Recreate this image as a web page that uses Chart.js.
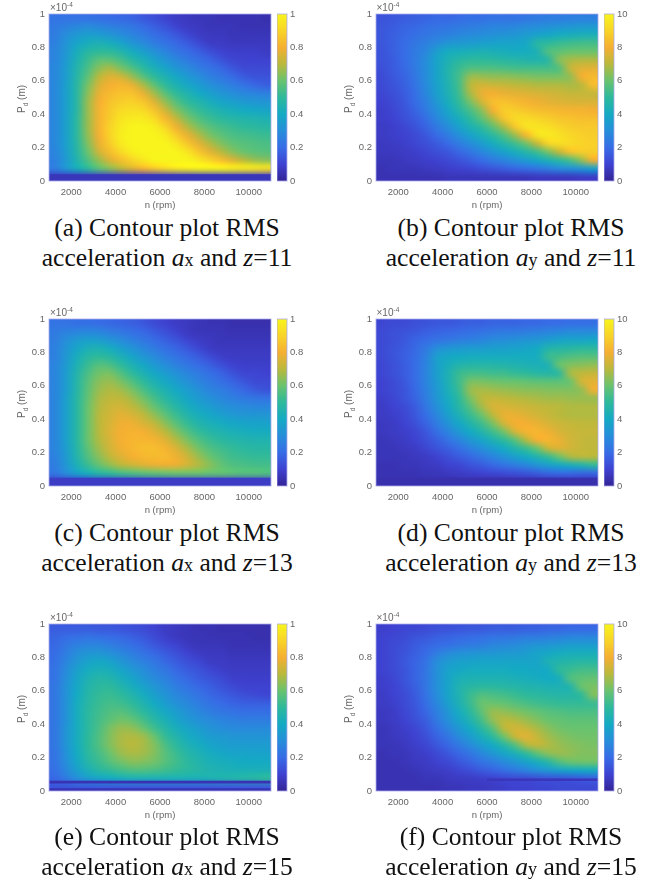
<!DOCTYPE html>
<html>
<head>
<meta charset="utf-8">
<script src="https://cdn.jsdelivr.net/npm/chart.js@4"></script>
<style>
  html, body { margin: 0; padding: 0; background: #fff; }
  #page { position: relative; width: 668px; height: 887px; overflow: hidden; }
  canvas { position: absolute; filter: blur(0.45px); }
  .cap { position: absolute; width: 334px; text-align: center; font: 25.6px/30px "Liberation Serif", serif; color: #111; white-space: nowrap; }
  .cap span { font-size: 18px; }
  .lab { position: absolute; font: 10px/12px "Liberation Sans", sans-serif; color: #666; white-space: nowrap; filter: blur(0.3px); }
  .lab sub, .lab sup { font-size: 6.5px; line-height: 0; }
  .rot { transform: rotate(-90deg); transform-origin: left top; }
</style>
</head>
<body>
<div id="page"></div>
<script>
// cell centres of the surface grid
const rpmCenters = [1250,1750,2250,2750,3250,3750,4250,4750,5250,5750,6250,6750,7250,7750,8250,8750,9250,9750,10250,10750];
const pdCenters = [0.975,0.925,0.875,0.825,0.775,0.725,0.675,0.625,0.575,0.525,0.475,0.425,0.375,0.325,0.275,0.225,0.175,0.125,0.075,0.025];

const xTicks = [2000,4000,6000,8000,10000];
const yTicks = [0,0.2,0.4,0.6,0.8,1];
const axTicks = [0,0.2,0.4,0.6,0.8,1];
const ayTicks = [0,2,4,6,8,10];

// parula colours as they look in the figure, level in percent of the colorbar
const parulaLevels = [0,10,20,30,40,50,60,70,80,90,100];
const parulaColors = [[52,36,150],[62,66,208],[55,108,230],[38,142,218],[20,170,195],[45,185,155],[105,195,110],[185,185,60],[245,175,50],[248,212,40],[248,244,28]];

// surface values, percent of the colorbar, rows go top to bottom
const levelsA = [
[22,22,22,22,21,20,19,18,15,13,10,8,7,6,6,5,5,5,5,4],
[24,26,28,29,28,26,25,23,20,17,14,10,8,7,6,6,6,5,5,5],
[25,30,34,36,35,33,30,27,24,21,18,15,11,8,7,7,6,6,6,6],
[26,32,38,42,44,42,38,33,29,25,22,19,16,12,8,8,7,7,7,7],
[27,33,42,48,50,50,46,41,36,31,27,23,20,17,13,10,9,9,9,8],
[27,34,44,52,58,58,54,48,43,37,32,28,24,21,18,14,11,10,10,10],
[28,35,46,55,64,68,62,56,49,43,38,33,29,25,22,19,15,12,12,12],
[28,35,47,58,70,76,74,66,57,50,44,39,34,30,26,23,20,16,14,14],
[28,36,48,62,75,80,82,78,68,58,50,44,39,35,31,28,25,22,19,17],
[28,36,48,64,78,83,85,85,78,67,57,50,45,40,36,33,30,28,27,26],
[28,36,48,66,80,85,88,89,86,76,65,56,50,46,42,38,36,34,33,32],
[28,36,48,66,81,87,92,93,92,85,73,63,56,51,47,44,42,40,39,38],
[28,36,49,66,81,88,95,97,97,92,82,71,62,56,52,49,47,46,45,44],
[28,36,49,66,81,90,97,100,100,98,90,79,69,62,57,54,52,50,49,48],
[28,36,49,65,80,90,98,100,100,100,97,87,78,69,62,58,55,54,53,52],
[28,36,48,63,78,88,97,100,100,100,100,95,86,77,69,63,59,57,56,55],
[27,35,47,60,74,84,92,98,100,100,100,100,95,86,77,70,64,60,58,57],
[26,34,45,56,66,76,84,90,96,100,100,100,100,96,90,84,76,70,66,64],
[25,33,42,50,58,64,70,76,82,87,92,96,98,100,100,100,98,97,96,94],
[8,8,8,8,8,8,8,8,8,8,8,8,8,8,8,8,8,8,8,8]];
const levelsB = [
[14,15,16,17,18,19,19,20,21,21,22,22,22,23,24,25,25,26,26,26],
[15,16,18,19,21,22,23,24,25,26,27,27,28,29,30,31,32,33,34,34],
[15,17,19,21,23,25,26,28,29,30,31,32,33,35,37,39,41,42,43,43],
[15,17,20,23,26,29,33,34,35,36,37,38,38,39,48,50,52,53,54,54],
[14,17,20,24,28,36,41,42,43,44,43,42,41,41,44,56,58,60,60,60],
[14,16,20,24,30,38,44,48,50,50,49,48,47,46,45,48,64,68,69,69],
[13,16,19,24,30,38,46,52,56,56,56,55,54,54,54,54,56,72,76,77],
[12,15,18,23,30,38,46,54,66,66,65,65,64,63,62,62,62,65,80,83],
[12,14,17,22,29,37,45,54,70,74,73,72,71,70,69,69,69,68,70,84],
[11,13,16,21,28,36,44,53,68,78,80,78,77,76,75,74,73,72,72,72],
[10,12,15,20,26,34,42,51,62,74,84,85,83,81,79,77,76,75,75,75],
[9,11,14,18,24,31,39,47,55,64,80,88,88,86,84,83,82,81,81,80],
[9,10,13,16,21,28,35,42,50,58,68,85,92,92,90,88,86,85,84,84],
[8,9,11,14,18,24,30,37,44,50,58,68,86,95,95,93,90,88,87,87],
[8,9,10,12,15,20,25,31,37,43,49,56,66,82,95,97,94,91,89,88],
[7,8,9,11,13,16,20,25,30,35,41,47,53,61,72,90,93,92,90,89],
[7,7,8,9,11,13,15,19,23,28,32,37,42,47,53,62,72,85,88,88],
[6,6,7,8,9,10,12,14,17,20,24,27,31,35,39,44,49,55,65,80],
[5,6,6,6,7,8,9,10,11,13,15,17,19,21,23,26,29,31,33,37],
[5,5,5,5,5,5,6,6,6,6,6,6,6,6,7,7,7,7,8,8]];
const levelsC = [
[22,22,21,21,20,19,18,17,15,12,10,8,7,6,5,5,4,4,4,4],
[24,26,27,28,27,25,23,21,19,16,13,10,7,6,6,6,5,5,5,5],
[25,30,34,36,35,32,29,26,23,20,17,14,10,8,7,6,6,6,6,6],
[26,32,38,43,44,41,36,32,28,24,21,18,15,11,8,7,7,7,7,7],
[26,33,42,48,50,48,43,38,33,29,25,22,19,16,12,9,8,8,8,8],
[27,34,44,52,57,55,50,44,39,34,30,26,23,20,17,13,10,9,9,9],
[27,35,46,55,61,62,56,50,44,39,35,31,27,24,21,18,14,11,11,10],
[27,35,47,57,64,66,62,56,50,44,39,35,31,27,24,21,18,15,12,12],
[27,35,47,58,66,69,67,62,55,49,44,39,35,31,27,25,22,19,16,14],
[27,36,48,59,68,71,71,67,61,54,48,43,38,34,31,28,26,24,23,22],
[27,36,48,60,69,73,74,71,66,59,53,47,42,38,35,32,30,29,28,28],
[27,36,48,60,70,74,77,75,71,65,58,52,46,42,39,36,34,33,33,33],
[27,36,48,60,70,75,79,79,75,71,64,57,51,46,43,41,39,38,37,37],
[27,36,48,60,70,76,80,81,80,76,70,63,56,51,47,45,43,42,41,41],
[27,36,48,60,69,75,80,82,82,81,76,69,62,56,52,49,47,46,45,45],
[27,35,47,58,67,74,79,82,84,84,81,75,68,61,56,53,51,49,48,48],
[26,34,46,56,64,71,76,80,82,83,83,79,73,66,60,56,53,52,51,51],
[25,33,43,52,59,65,70,73,76,78,79,78,74,69,64,59,56,55,54,54],
[23,29,36,42,47,50,53,55,57,58,59,60,60,60,59,59,58,57,57,56],
[9,9,9,9,9,9,9,9,9,9,9,9,9,9,9,9,9,9,9,9]];
const levelsD = [
[11,12,12,13,14,15,15,16,17,17,18,18,18,19,19,20,20,21,21,21],
[12,13,14,15,17,18,19,20,21,22,23,24,24,25,26,27,28,29,29,29],
[12,13,15,18,20,22,23,25,26,27,29,30,31,32,33,35,37,38,38,39],
[12,14,16,19,24,30,33,34,35,35,36,36,37,38,40,46,47,48,49,49],
[12,14,17,20,26,36,39,40,41,41,41,41,41,41,41,52,54,56,57,57],
[11,13,16,20,27,36,42,46,47,47,47,46,45,44,43,44,60,63,64,65],
[11,13,16,20,27,36,44,52,54,54,53,53,51,50,48,47,49,68,71,72],
[10,12,15,20,27,35,44,53,62,62,61,60,60,59,58,58,58,60,74,77],
[10,12,14,19,26,34,43,52,66,68,67,66,65,64,64,63,63,63,65,79],
[9,11,14,18,25,33,41,50,62,70,72,71,70,69,68,67,67,66,66,66],
[8,10,12,16,23,31,39,48,57,67,75,75,74,73,72,71,70,69,69,69],
[8,9,11,15,21,28,36,44,52,60,70,78,78,76,74,72,70,69,69,69],
[7,8,10,13,18,25,32,39,46,53,62,74,80,80,78,75,73,72,71,71],
[7,8,9,11,15,21,27,34,40,46,53,61,74,81,82,79,75,73,72,72],
[6,7,8,10,13,17,22,27,33,38,44,50,57,69,80,82,78,74,72,71],
[6,6,7,8,11,14,17,21,26,30,35,40,46,52,60,72,76,74,72,71],
[6,6,6,7,8,10,13,16,19,23,27,31,36,40,45,51,60,68,70,70],
[5,5,6,6,7,8,10,11,14,16,19,22,25,28,32,36,39,42,45,50],
[5,5,5,5,6,6,7,8,9,10,11,12,13,14,16,18,19,19,18,18],
[5,5,5,5,5,5,5,5,5,4,4,4,4,4,4,4,4,4,4,4]];
const levelsE = [
[16,16,16,16,15,15,14,13,12,10,8,7,6,5,5,4,4,4,4,4],
[18,20,21,22,21,20,19,17,15,12,9,7,6,6,5,5,5,5,4,4],
[19,23,26,27,27,25,23,21,18,15,12,10,7,6,6,6,5,5,5,5],
[20,25,30,33,33,31,28,25,22,19,16,13,10,8,7,7,6,6,6,6],
[21,27,33,37,39,37,33,29,26,23,19,16,13,11,8,8,7,7,7,7],
[22,29,36,41,43,42,38,34,30,26,23,19,16,14,11,9,8,8,8,8],
[22,30,38,44,47,46,42,38,33,29,26,22,19,16,14,12,9,9,9,9],
[23,31,39,46,49,50,46,42,37,33,29,25,22,19,17,14,12,10,10,10],
[23,31,40,47,51,52,50,46,41,36,32,28,25,22,19,17,15,13,12,11],
[23,31,41,48,52,54,53,50,45,40,35,31,28,25,22,20,18,17,17,17],
[23,31,41,49,53,56,57,54,49,44,39,35,31,28,25,23,22,21,21,21],
[23,31,41,49,54,58,61,59,54,48,43,38,34,31,29,27,26,25,25,25],
[23,32,41,49,55,62,66,65,60,53,47,42,38,35,32,30,29,29,29,29],
[23,32,41,50,56,63,68,69,67,60,51,46,41,38,35,34,33,32,32,32],
[23,32,41,50,56,63,68,70,68,63,55,49,44,41,38,36,35,35,35,35],
[22,31,40,49,54,60,66,68,67,63,57,52,47,44,41,39,38,38,37,37],
[22,30,39,47,52,57,61,64,63,61,57,53,49,46,43,42,41,40,40,40],
[21,28,36,43,48,51,54,56,56,55,53,51,49,47,45,44,43,43,43,43],
[19,24,30,35,38,40,42,43,43,43,43,43,43,43,44,45,46,47,48,50],
[14,14,15,15,15,15,15,15,15,15,15,15,15,15,15,15,15,15,15,15]];
const levelsF = [
[9,10,11,11,12,13,13,14,15,15,16,16,16,17,17,18,18,19,19,19],
[10,11,12,14,15,17,18,19,20,21,22,22,23,24,24,25,26,27,27,27],
[10,12,13,16,18,20,21,23,24,25,27,28,29,31,32,33,34,35,35,35],
[10,12,14,17,20,25,29,31,32,33,33,34,34,35,38,39,41,42,42,42],
[10,12,15,18,22,30,34,36,37,38,38,38,38,38,38,44,46,47,48,48],
[10,12,14,18,23,31,37,39,41,41,41,41,40,40,39,40,50,52,54,54],
[9,11,14,18,23,31,38,43,44,44,44,44,43,42,41,40,42,56,58,59],
[9,10,13,17,23,31,38,45,48,49,49,48,47,46,45,44,44,46,60,62],
[8,10,12,16,22,30,38,45,52,56,55,54,52,50,49,48,47,47,50,63],
[8,9,12,15,21,28,36,44,52,60,60,59,57,55,53,52,51,51,51,52],
[7,8,11,14,19,26,33,41,49,58,66,65,63,61,59,57,56,55,55,55],
[7,8,10,13,17,24,31,38,45,54,65,70,69,66,63,60,59,58,58,58],
[6,7,9,11,15,21,27,34,40,48,57,70,74,72,68,64,61,60,60,60],
[6,7,8,10,13,18,23,29,35,42,49,60,72,77,72,67,64,62,61,61],
[6,6,7,9,11,15,19,24,29,35,40,47,56,68,72,69,66,64,63,62],
[5,6,6,8,9,12,15,19,23,28,33,38,43,50,58,64,66,65,63,63],
[5,5,6,7,8,10,12,15,18,22,25,29,33,37,42,48,56,60,61,61],
[5,5,5,6,7,8,9,11,13,16,18,21,24,27,31,34,37,39,40,41],
[5,5,5,5,6,6,7,8,8,9,10,11,12,12,13,14,14,15,16,17],
[5,5,5,5,5,5,6,6,7,7,8,9,10,10,11,11,12,12,12,12]];

// thin sharp bands near Pd = 0: [rpm from, rpm to, pd low, pd high, level]
const bandsA = [[1000,11000,0,0.04,6]];
const bandsB = [];
const bandsC = [[1000,11000,0,0.05,8]];
const bandsD = [[1000,11000,0,0.05,4]];
const bandsE = [[1000,11000,0.045,0.062,5],[1000,11000,0,0.017,5]];
const bandsF = [[6000,11000,0.06,0.075,6]];

const panels = [
  { levels: levelsA, bands: bandsA, cb: axTicks, left: 49, top: 14, tag: "(a)", acc: "x", z: 11, capTop: 213, cap: 167 },
  { levels: levelsB, bands: bandsB, cb: ayTicks, left: 375.5, top: 14, tag: "(b)", acc: "y", z: 11, capTop: 213, cap: 511 },
  { levels: levelsC, bands: bandsC, cb: axTicks, left: 49, top: 319, tag: "(c)", acc: "x", z: 13, capTop: 518, cap: 167 },
  { levels: levelsD, bands: bandsD, cb: ayTicks, left: 375.5, top: 319, tag: "(d)", acc: "y", z: 13, capTop: 518, cap: 511 },
  { levels: levelsE, bands: bandsE, cb: axTicks, left: 49, top: 624, tag: "(e)", acc: "x", z: 15, capTop: 822, cap: 167 },
  { levels: levelsF, bands: bandsF, cb: ayTicks, left: 375.5, top: 624, tag: "(f)", acc: "y", z: 15, capTop: 822, cap: 511 },
];

const plotW = 222, plotH = 167, padL = 40, padT = 8, padB = 30;
const tickFont = { family: "Liberation Sans", size: 9.5 };
const tickColor = "#666";

function parula(level) {
  let i = 0;
  while (i < parulaLevels.length - 2 && level > parulaLevels[i + 1]) i++;
  const t = (level - parulaLevels[i]) / (parulaLevels[i + 1] - parulaLevels[i]);
  const a = parulaColors[i], b = parulaColors[i + 1];
  return `rgb(${a.map((c, k) => Math.round(c + (b[k] - c) * t)).join(",")})`;
}

// smooths the cells like MATLAB's interpolated shading, then outlines the axes
const smoothCells = {
  id: "smoothCells",
  afterDatasetDraw(chart, args) {
    if (args.index !== 0) return;
    const a = chart.chartArea;
    const small = document.createElement("canvas");
    small.width = rpmCenters.length;
    small.height = pdCenters.length;
    const s = small.getContext("2d");
    s.imageSmoothingEnabled = false;
    s.drawImage(chart.canvas, a.left, a.top, a.width, a.height, 0, 0, small.width, small.height);
    const c = chart.ctx;
    c.save();
    c.beginPath();
    c.rect(a.left, a.top, a.width, a.height);
    c.clip();
    c.imageSmoothingEnabled = true;
    c.imageSmoothingQuality = "high";
    c.drawImage(small, a.left, a.top, a.width, a.height);
    c.restore();
  },
  afterDraw(chart) {
    const a = chart.chartArea, c = chart.ctx;
    c.save();
    c.strokeStyle = "rgba(170,170,235,0.8)";
    c.strokeRect(a.left, a.top, a.width, a.height);
    c.restore();
  },
};

const page = document.getElementById("page");

function addCanvas(left, top, w, h) {
  const cv = document.createElement("canvas");
  cv.style.left = left + "px";
  cv.style.top = top + "px";
  cv.style.width = w + "px";
  cv.style.height = h + "px";
  cv.width = w;
  cv.height = h;
  page.appendChild(cv);
  return cv;
}

function addHtml(cls, left, top, html) {
  const d = document.createElement("div");
  d.className = cls;
  d.style.left = left + "px";
  d.style.top = top + "px";
  d.innerHTML = html;
  page.appendChild(d);
}

panels.forEach((p) => {
  const cells = [];
  pdCenters.forEach((pd, j) => rpmCenters.forEach((rpm, i) => cells.push({ x: rpm, y: pd, v: p.levels[j][i] })));

  const bandSets = p.bands.map((b) => ({
    data: [{ x: b[0], y: (b[2] + b[3]) / 2 }, { x: b[1], y: (b[2] + b[3]) / 2 }],
    showLine: true,
    pointRadius: 0,
    borderColor: parula(b[4]),
    borderWidth: (b[3] - b[2]) * plotH,
    borderCapStyle: "butt",
    order: 1,
  }));

  new Chart(addCanvas(p.left - padL, p.top - padT, padL + plotW + 2, padT + plotH + padB), {
    type: "scatter",
    plugins: [smoothCells],
    data: {
      datasets: [
        {
          data: cells,
          pointStyle: "rect",
          pointRadius: 9,
          borderWidth: 0,
          backgroundColor: (ctx) => parula(ctx.raw ? ctx.raw.v : 0),
          order: 2,
        },
        ...bandSets,
      ],
    },
    options: {
      animation: false,
      responsive: false,
      events: [],
      layout: { autoPadding: false, padding: { top: padT, right: 2, left: 0, bottom: 0 } },
      plugins: { legend: { display: false }, tooltip: { enabled: false } },
      scales: {
        x: {
          type: "linear",
          min: 1000,
          max: 11000,
          grid: { display: false, drawTicks: false },
          border: { display: false },
          afterBuildTicks: (s) => { s.ticks = xTicks.map((v) => ({ value: v })); },
          afterFit: (s) => { s.height = padB; s.paddingLeft = 0; s.paddingRight = 0; },
          ticks: { font: tickFont, color: tickColor, maxRotation: 0, padding: 6, callback: (v) => String(v) },
          title: { display: true, text: "n (rpm)", font: tickFont, color: tickColor, padding: { top: 2, bottom: 0 } },
        },
        y: {
          min: 0,
          max: 1,
          grid: { display: false, drawTicks: false },
          border: { display: false },
          afterBuildTicks: (s) => { s.ticks = yTicks.map((v) => ({ value: v })); },
          afterFit: (s) => { s.width = padL; s.paddingTop = 0; s.paddingBottom = 0; },
          ticks: { font: tickFont, color: tickColor, padding: 4, callback: (v) => String(v) },
        },
      },
    },
  });

  // colorbar
  const cbMax = p.cb[p.cb.length - 1];
  new Chart(addCanvas(p.left + plotW + 6, p.top - padT, 40, padT + plotH + 12), {
    type: "bar",
    plugins: [{ id: "cbOutline", afterDraw: smoothCells.afterDraw }],
    data: {
      labels: ["colorbar"],
      datasets: [{
        data: [[0, cbMax]],
        barPercentage: 1,
        categoryPercentage: 1,
        backgroundColor: (ctx) => {
          const a = ctx.chart.chartArea;
          if (!a) return parula(0);
          const g = ctx.chart.ctx.createLinearGradient(0, a.bottom, 0, a.top);
          parulaLevels.forEach((l) => g.addColorStop(l / 100, parula(l)));
          return g;
        },
      }],
    },
    options: {
      animation: false,
      responsive: false,
      events: [],
      layout: { padding: { top: padT, bottom: 12 } },
      plugins: { legend: { display: false }, tooltip: { enabled: false } },
      scales: {
        x: { display: false },
        y: {
          position: "right",
          min: 0,
          max: cbMax,
          grid: { display: false, drawTicks: false },
          border: { display: false },
          afterBuildTicks: (s) => { s.ticks = p.cb.map((v) => ({ value: v })); },
          afterFit: (s) => { s.width = 30; s.paddingTop = 0; s.paddingBottom = 0; },
          ticks: { font: tickFont, color: tickColor, padding: 3, callback: (v) => String(v) },
        },
      },
    },
  });

  addHtml("lab rot", p.left - 33, p.top + 99, "P<sub>d</sub> (m)");
  addHtml("lab", p.left + 1, p.top - 12, "×10<sup>-4</sup>");

  addHtml("cap", p.cap - 167, p.capTop,
    `${p.tag} Contour plot RMS<br>acceleration <i>a</i><span>${p.acc}</span> and <i>z</i>=${p.z}`);
});
</script>
</body>
</html>
